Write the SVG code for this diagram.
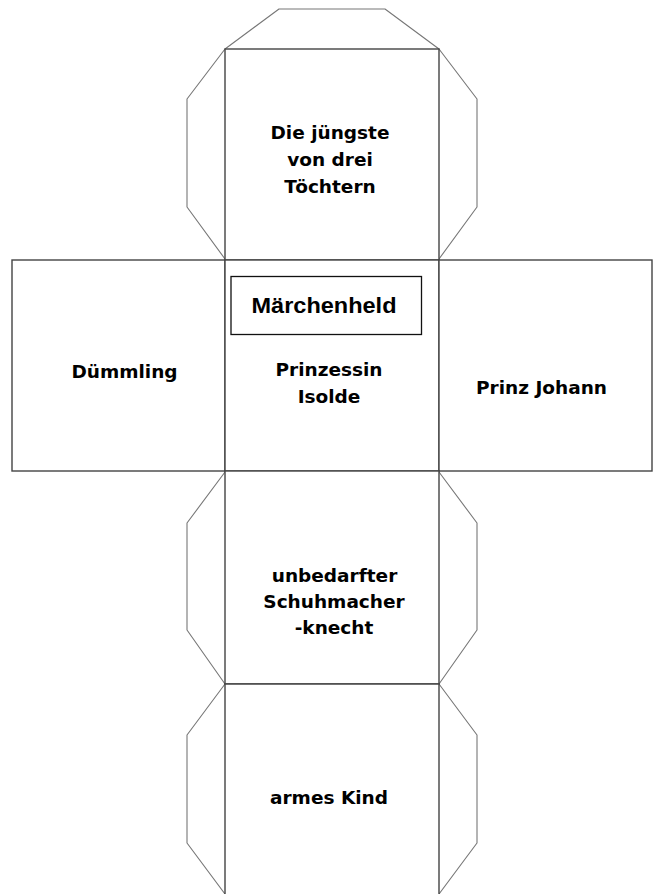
<svg xmlns="http://www.w3.org/2000/svg" width="659" height="894" viewBox="0 0 659 894">
<style>
.face{fill:#fff;stroke:#444;stroke-width:1.4}
.tab{fill:none;stroke:#777;stroke-width:1.1;stroke-linejoin:round}
.t{font-family:"DejaVu Sans","Verdana",sans-serif;font-weight:bold;font-size:18.5px;fill:#000;text-anchor:middle}
.title{font-family:"Liberation Sans",Arial,sans-serif;font-weight:bold;font-size:22px;fill:#000;text-anchor:middle}
.lbl{fill:#fff;stroke:#111;stroke-width:1.3}
</style>
<rect width="659" height="894" fill="#fff"/>
<g id="tabs">
<polyline class="tab" points="225,49 279,9 385,9 439,49"/>
<polyline class="tab" points="225,49 187,99 187,207 225,259"/>
<polyline class="tab" points="439,49 477,99 477,207 439,259"/>
<polyline class="tab" points="225,472 187,523 187,630 225,684"/>
<polyline class="tab" points="439,472 477,523 477,630 439,684"/>
<polyline class="tab" points="225,684 187,735 187,843 225,894"/>
<polyline class="tab" points="439,684 477,735 477,843 439,894"/>
</g>
<g id="face-top">
<rect class="face" x="225" y="49" width="214" height="211"/>
<text class="t" x="330" y="139">Die jüngste</text>
<text class="t" x="330" y="166">von drei</text>
<text class="t" x="330" y="193">Töchtern</text>
</g>
<g id="face-left">
<rect class="face" x="12" y="260" width="213" height="211"/>
<text class="t" x="124.5" y="378">Dümmling</text>
</g>
<g id="face-center">
<rect class="face" x="225" y="260" width="214" height="211"/>
<rect class="lbl" x="231" y="276.5" width="190.5" height="58"/>
<text class="title" x="324" y="313" textLength="145" lengthAdjust="spacingAndGlyphs">Märchenheld</text>
<text class="t" x="329" y="376">Prinzessin</text>
<text class="t" x="329" y="403">Isolde</text>
</g>
<g id="face-right">
<rect class="face" x="439" y="260" width="213" height="211"/>
<text class="t" x="541.5" y="394">Prinz Johann</text>
</g>
<g id="face-bottom">
<rect class="face" x="225" y="471" width="214" height="213"/>
<text class="t" x="334.5" y="581.5">unbedarfter</text>
<text class="t" x="334" y="608">Schuhmacher</text>
<text class="t" x="334" y="634">-knecht</text>
</g>
<g id="face-last">
<path class="face" d="M225,896 V684 H439 V896"/>
<text class="t" x="329" y="804">armes Kind</text>
</g>
</svg>
